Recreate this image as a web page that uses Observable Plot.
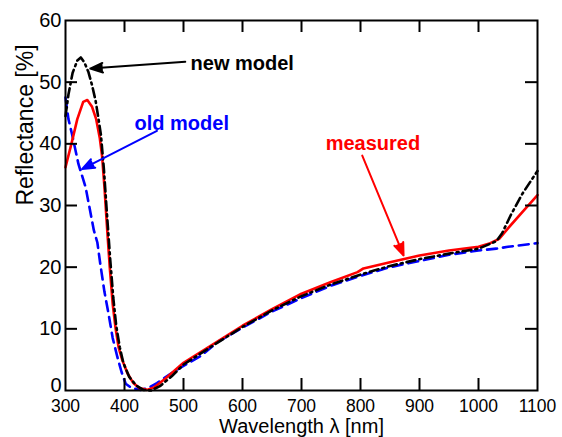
<!DOCTYPE html>
<html><head><meta charset="utf-8">
<script src="https://cdn.jsdelivr.net/npm/d3@7"></script>
<script src="https://cdn.jsdelivr.net/npm/@observablehq/plot@0.6"></script>
<style>body{margin:0;background:#fff}</style>
</head><body><div id="chart"></div>
<script>
// Measured reflectance (red, solid)
const measuredX = [300,310,320,330,337,345,352,358,362,366,370,375,380,385,390,396,405,415,425,438,450,470,500,550,600,650,700,750,795,805,850,900,950,1000,1020,1035,1050,1075,1100];
const measuredY = [36.2,40,44,46.8,47.1,46,44,41,38,33,27,20,14,10,7,5,2.8,1.2,0.4,0.1,0.5,2,4.5,7.5,10.5,13.2,15.7,17.6,19.2,19.8,20.8,21.9,22.7,23.3,23.9,24.6,26.3,29,31.7];
// New model (black, dash-dot)
const newModelX = [300,305,312,320,326,332,339,345,351,356,360,365,370,376,381,386,392,398,408,420,432,445,460,480,500,550,600,650,700,750,800,850,900,950,1000,1030,1040,1055,1075,1100];
const newModelY = [44.5,48,51.5,53.5,54,53.2,51.6,49.5,47,44,41.5,36,29,21,15,10.5,7,4.5,2.2,0.8,0.1,0,0.7,2.3,4.2,7.3,10.3,13,15.3,17.2,18.8,20.2,21.3,22.2,23,24.2,25.5,28.5,32,35.6];
// Old model (blue, dashed)
const oldModelX = [300,305,311,322,334,341,348,354,359,366,373,380,388,395,402,412,427,440,455,478,500,529,560,600,650,700,750,800,850,900,950,1000,1030,1050,1075,1100];
const oldModelY = [47.5,44,41.6,36.7,33,29.5,26,24,20.5,16,12.4,8.5,5.4,3,1.1,0.4,0.1,0.4,1.2,2.7,4,5.6,8,10.2,12.8,15,17,18.6,20,21,22,22.7,23,23.3,23.6,23.9];

const xTicks = [300,400,500,600,700,800,900,1000,1100];
const yTicks = [0,10,20,30,40,50,60];

const labelTexts = ["new model","old model","measured"];
const labelX = [512,417,741];
const labelY = [53,43.3,40];
const arrowX1 = [503,455,803];
const arrowY1 = [53.3,42.1,38.1];
const arrowX2 = [342,328,873];
const arrowY2 = [52.2,35.9,21.9];
const seriesColors = ["#000000","#0000ff","#ff0000"];

const toRows = (xs, ys) => xs.map((x, i) => ({x, y: ys[i]}));
const measured = toRows(measuredX, measuredY);
const newModel = toRows(newModelX, newModelY);
const oldModel = toRows(oldModelX, oldModelY);

const W = 562, H = 437, mL = 65, mR = 25, mT = 20, mB = 47;
const plotW = W - mL - mR, plotH = H - mT - mB, tick = 12;
const innerX = xTicks.slice(1, -1), innerY = yTicks.slice(1, -1);

const annotationMarks = [];
labelTexts.forEach((t, i) => {
  const c = seriesColors[i];
  annotationMarks.push(Plot.arrow([i], {
    x1: () => arrowX1[i], y1: () => arrowY1[i], x2: () => arrowX2[i], y2: () => arrowY2[i],
    stroke: c, fill: c, strokeWidth: 2, headLength: 10, headAngle: 42
  }));
  annotationMarks.push(Plot.text([t], {
    x: () => labelX[i], y: () => labelY[i], text: d => d, textAnchor: "start",
    fill: c, fontWeight: "bold", fontSize: 20, lineAnchor: "middle"
  }));
});

const chart = Plot.plot({
  width: W, height: H,
  marginLeft: mL, marginRight: mR, marginTop: mT, marginBottom: mB,
  x: {domain: [300, 1100]},
  y: {domain: [0, 60]},
  style: {fontFamily: "'Liberation Sans', Arial, Helvetica, sans-serif", background: "white", color: "black"},
  marks: [
    Plot.line(oldModel, {x: "x", y: "y", stroke: "#0000ff", strokeWidth: 2.6, strokeDasharray: "10,6"}),
    Plot.line(measured, {x: "x", y: "y", stroke: "#ff0000", strokeWidth: 2.6}),
    Plot.line(newModel, {x: "x", y: "y", stroke: "#000000", strokeWidth: 2.6, strokeDasharray: "9,4,2,4"}),
    ...annotationMarks,
    Plot.tickX(innerX, {x: d => d, insetTop: plotH - tick, strokeWidth: 2}),
    Plot.tickX(innerX, {x: d => d, insetBottom: plotH - tick, strokeWidth: 2}),
    Plot.tickY(innerY, {y: d => d, insetRight: plotW - tick, strokeWidth: 2}),
    Plot.tickY(innerY, {y: d => d, insetLeft: plotW - tick, strokeWidth: 2}),
    Plot.frame({strokeWidth: 2}),
    Plot.axisX(xTicks, {tickSize: 0, tickPadding: 9, fontSize: 17.5, label: null, tickFormat: d => String(d)}),
    Plot.axisY(yTicks.slice(1), {tickSize: 0, tickPadding: 4, fontSize: 20, label: null, tickFormat: d => String(d)}),
    Plot.axisY(yTicks.slice(0, 1), {tickSize: 0, tickPadding: 4, fontSize: 20, label: null, dy: -5, tickFormat: d => String(d)}),
    Plot.text(["Wavelength λ [nm]"], {text: d => d, frameAnchor: "bottom", dy: 36.3, fontSize: 20, lineAnchor: "middle"}),
    Plot.text(["Reflectance [%]"], {text: d => d, frameAnchor: "left", dx: -40, rotate: -90, fontSize: 23, lineAnchor: "middle"})
  ]
});
document.getElementById("chart").appendChild(chart);
</script>
</body></html>
